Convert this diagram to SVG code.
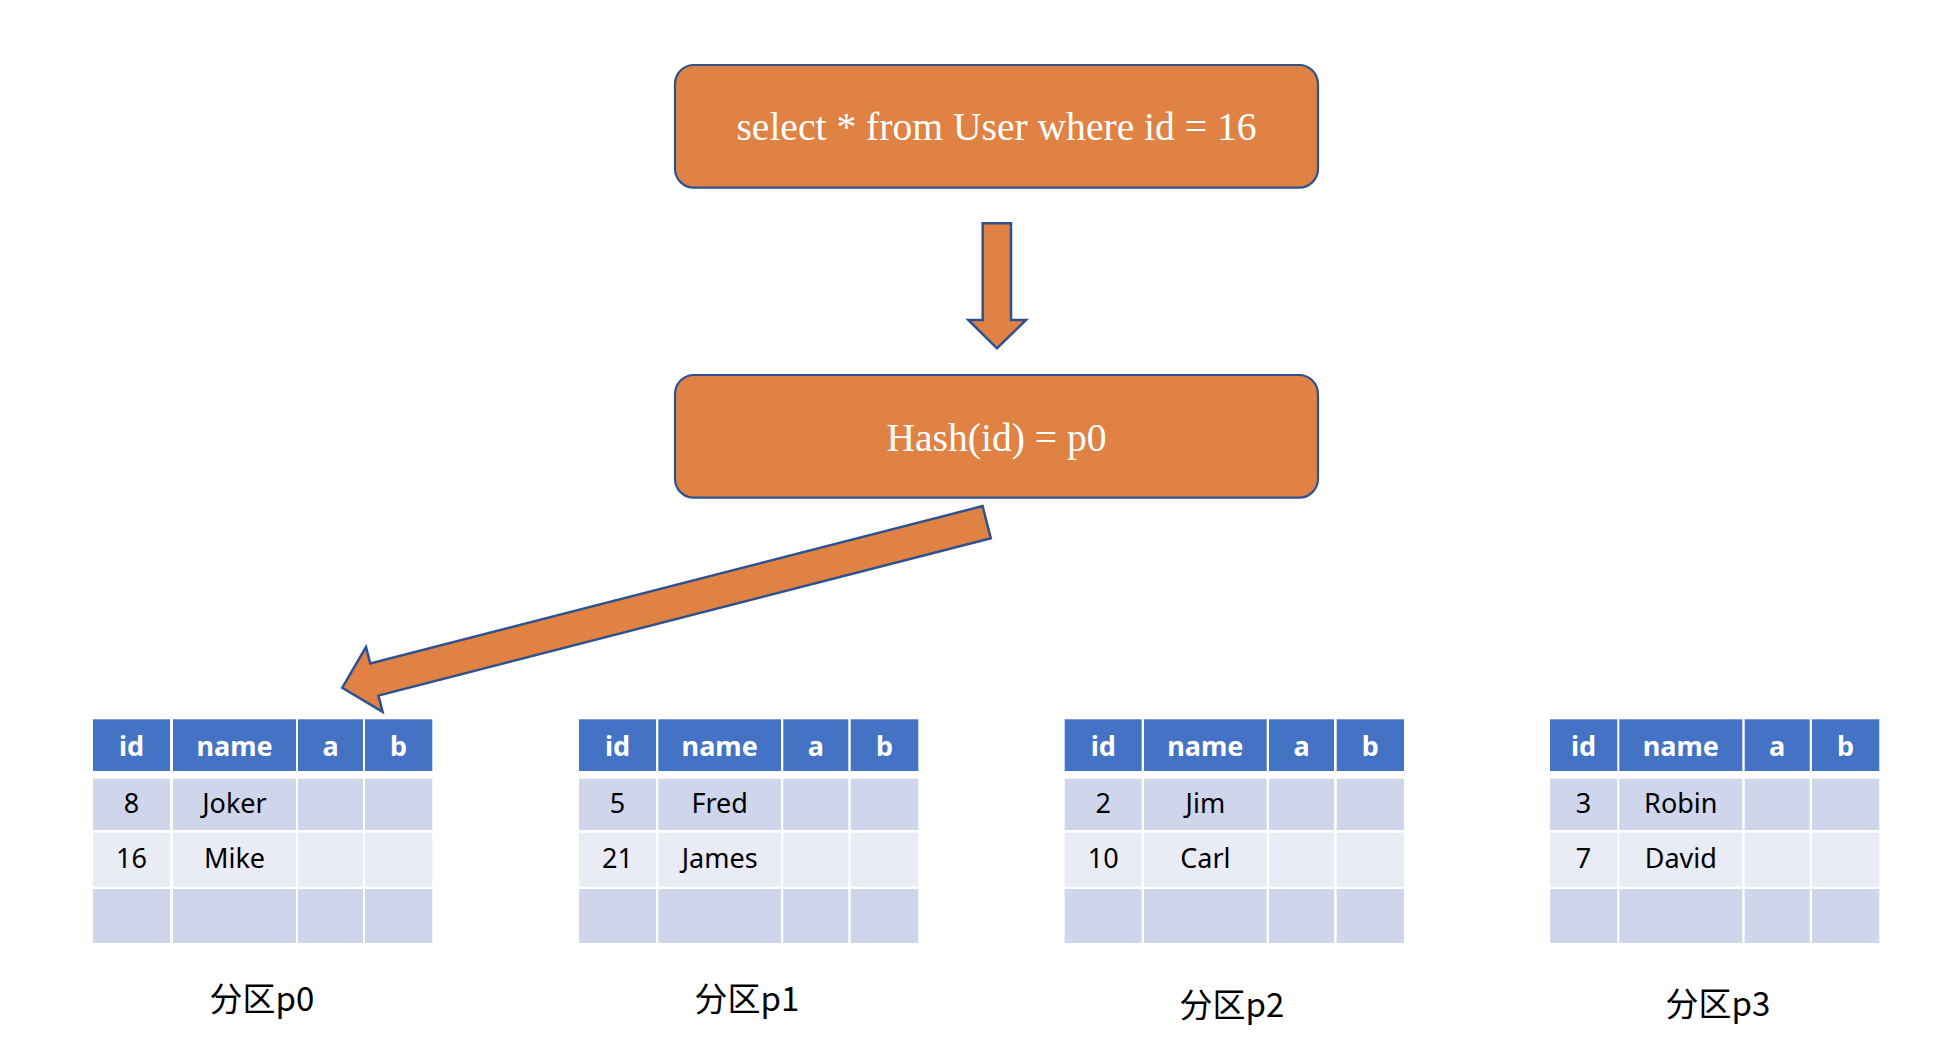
<svg xmlns="http://www.w3.org/2000/svg" width="1936" height="1058" viewBox="0 0 1936 1058">
<style>
.box{fill:#DF8244;stroke:#2F528F;stroke-width:2.2}
.arr{fill:#DF8244;stroke:#2F528F;stroke-width:2.5;stroke-linejoin:miter}
.btxt{font-family:"Liberation Serif","Times New Roman",serif;font-size:39.6px;fill:#FFFFFF;text-anchor:middle}
.hd{fill:#4472C4}
.r1{fill:#CFD5EA}
.r2{fill:#E9EBF5}
.th{font-family:"Noto Sans","Liberation Sans",Arial,sans-serif;font-weight:bold;font-size:27px;fill:#FFFFFF;text-anchor:middle}
.td{font-family:"Noto Sans","Liberation Sans",Arial,sans-serif;font-size:27px;fill:#000000;text-anchor:middle}
.lbl{font-family:"Noto Sans CJK SC","Noto Sans",sans-serif;font-size:33px;fill:#000000;text-anchor:middle}
</style>
<rect width="1936" height="1058" fill="#FFFFFF"/>
<g id="connectors">
<polygon class="arr" points="982.7,223.3 1011,223.3 1011,320 1026,320 997,348.3 968.3,320 982.7,320"/>
<polygon class="arr" points="342.3,687.7 366,647 370.2,663.4 982.6,506.1 990.8,538.3 378.4,695.6 382.6,711.9"/>
</g>
<g id="query">
<rect class="box" x="675" y="65" width="643" height="122.7" rx="19" ry="19"/>
<text class="btxt" x="996.5" y="140">select * from User where id = 16</text>
</g>
<g id="hash">
<rect class="box" x="675" y="375" width="643" height="122.7" rx="19" ry="19"/>
<text class="btxt" x="996.5" y="450.5">Hash(id) = p0</text>
</g>
<g id="p0">
<rect class="hd" x="93" y="719.3" width="77" height="51.7"/><rect class="hd" x="173" y="719.3" width="123" height="51.7"/><rect class="hd" x="298" y="719.3" width="65" height="51.7"/><rect class="hd" x="365" y="719.3" width="67.3" height="51.7"/>
<rect class="r1" x="93" y="778.7" width="77" height="51.3"/><rect class="r1" x="173" y="778.7" width="123" height="51.3"/><rect class="r1" x="298" y="778.7" width="65" height="51.3"/><rect class="r1" x="365" y="778.7" width="67.3" height="51.3"/>
<rect class="r2" x="93" y="832.7" width="77" height="54"/><rect class="r2" x="173" y="832.7" width="123" height="54"/><rect class="r2" x="298" y="832.7" width="65" height="54"/><rect class="r2" x="365" y="832.7" width="67.3" height="54"/>
<rect class="r1" x="93" y="889" width="77" height="54"/><rect class="r1" x="173" y="889" width="123" height="54"/><rect class="r1" x="298" y="889" width="65" height="54"/><rect class="r1" x="365" y="889" width="67.3" height="54"/>
<text class="th" x="131.5" y="755.5">id</text><text class="th" x="234.5" y="755.5">name</text><text class="th" x="330.5" y="755.5">a</text><text class="th" x="398.6" y="755.5">b</text>
<text class="td" x="131.5" y="813.3">8</text><text class="td" x="234.5" y="813.3">Joker</text>
<text class="td" x="131.5" y="868.3">16</text><text class="td" x="234.5" y="868.3">Mike</text>
<text class="lbl" x="262" y="1011">分区p0</text>
</g>
<g id="p1">
<rect class="hd" x="579" y="719.3" width="77" height="51.7"/><rect class="hd" x="658.3" y="719.3" width="122.7" height="51.7"/><rect class="hd" x="783.3" y="719.3" width="65" height="51.7"/><rect class="hd" x="850.7" y="719.3" width="67.6" height="51.7"/>
<rect class="r1" x="579" y="778.7" width="77" height="51.3"/><rect class="r1" x="658.3" y="778.7" width="122.7" height="51.3"/><rect class="r1" x="783.3" y="778.7" width="65" height="51.3"/><rect class="r1" x="850.7" y="778.7" width="67.6" height="51.3"/>
<rect class="r2" x="579" y="832.7" width="77" height="54"/><rect class="r2" x="658.3" y="832.7" width="122.7" height="54"/><rect class="r2" x="783.3" y="832.7" width="65" height="54"/><rect class="r2" x="850.7" y="832.7" width="67.6" height="54"/>
<rect class="r1" x="579" y="889" width="77" height="54"/><rect class="r1" x="658.3" y="889" width="122.7" height="54"/><rect class="r1" x="783.3" y="889" width="65" height="54"/><rect class="r1" x="850.7" y="889" width="67.6" height="54"/>
<text class="th" x="617.5" y="755.5">id</text><text class="th" x="719.7" y="755.5">name</text><text class="th" x="815.8" y="755.5">a</text><text class="th" x="884.5" y="755.5">b</text>
<text class="td" x="617.5" y="813.3">5</text><text class="td" x="719.7" y="813.3">Fred</text>
<text class="td" x="617.5" y="868.3">21</text><text class="td" x="719.7" y="868.3">James</text>
<text class="lbl" x="747" y="1011">分区p1</text>
</g>
<g id="p2">
<rect class="hd" x="1064.7" y="719.3" width="77" height="51.7"/><rect class="hd" x="1144" y="719.3" width="122.7" height="51.7"/><rect class="hd" x="1269" y="719.3" width="65" height="51.7"/><rect class="hd" x="1336.7" y="719.3" width="67.3" height="51.7"/>
<rect class="r1" x="1064.7" y="778.7" width="77" height="51.3"/><rect class="r1" x="1144" y="778.7" width="122.7" height="51.3"/><rect class="r1" x="1269" y="778.7" width="65" height="51.3"/><rect class="r1" x="1336.7" y="778.7" width="67.3" height="51.3"/>
<rect class="r2" x="1064.7" y="832.7" width="77" height="54"/><rect class="r2" x="1144" y="832.7" width="122.7" height="54"/><rect class="r2" x="1269" y="832.7" width="65" height="54"/><rect class="r2" x="1336.7" y="832.7" width="67.3" height="54"/>
<rect class="r1" x="1064.7" y="889" width="77" height="54"/><rect class="r1" x="1144" y="889" width="122.7" height="54"/><rect class="r1" x="1269" y="889" width="65" height="54"/><rect class="r1" x="1336.7" y="889" width="67.3" height="54"/>
<text class="th" x="1103.2" y="755.5">id</text><text class="th" x="1205.4" y="755.5">name</text><text class="th" x="1301.5" y="755.5">a</text><text class="th" x="1370.4" y="755.5">b</text>
<text class="td" x="1103.2" y="813.3">2</text><text class="td" x="1205.4" y="813.3">Jim</text>
<text class="td" x="1103.2" y="868.3">10</text><text class="td" x="1205.4" y="868.3">Carl</text>
<text class="lbl" x="1232" y="1017">分区p2</text>
</g>
<g id="p3">
<rect class="hd" x="1550" y="719.3" width="67.3" height="51.7"/><rect class="hd" x="1619.3" y="719.3" width="123" height="51.7"/><rect class="hd" x="1744.7" y="719.3" width="65" height="51.7"/><rect class="hd" x="1812" y="719.3" width="67.3" height="51.7"/>
<rect class="r1" x="1550" y="778.7" width="67.3" height="51.3"/><rect class="r1" x="1619.3" y="778.7" width="123" height="51.3"/><rect class="r1" x="1744.7" y="778.7" width="65" height="51.3"/><rect class="r1" x="1812" y="778.7" width="67.3" height="51.3"/>
<rect class="r2" x="1550" y="832.7" width="67.3" height="54"/><rect class="r2" x="1619.3" y="832.7" width="123" height="54"/><rect class="r2" x="1744.7" y="832.7" width="65" height="54"/><rect class="r2" x="1812" y="832.7" width="67.3" height="54"/>
<rect class="r1" x="1550" y="889" width="67.3" height="54"/><rect class="r1" x="1619.3" y="889" width="123" height="54"/><rect class="r1" x="1744.7" y="889" width="65" height="54"/><rect class="r1" x="1812" y="889" width="67.3" height="54"/>
<text class="th" x="1583.6" y="755.5">id</text><text class="th" x="1680.8" y="755.5">name</text><text class="th" x="1777.2" y="755.5">a</text><text class="th" x="1845.6" y="755.5">b</text>
<text class="td" x="1583.6" y="813.3">3</text><text class="td" x="1680.8" y="813.3">Robin</text>
<text class="td" x="1583.6" y="868.3">7</text><text class="td" x="1680.8" y="868.3">David</text>
<text class="lbl" x="1718" y="1016">分区p3</text>
</g>
</svg>
